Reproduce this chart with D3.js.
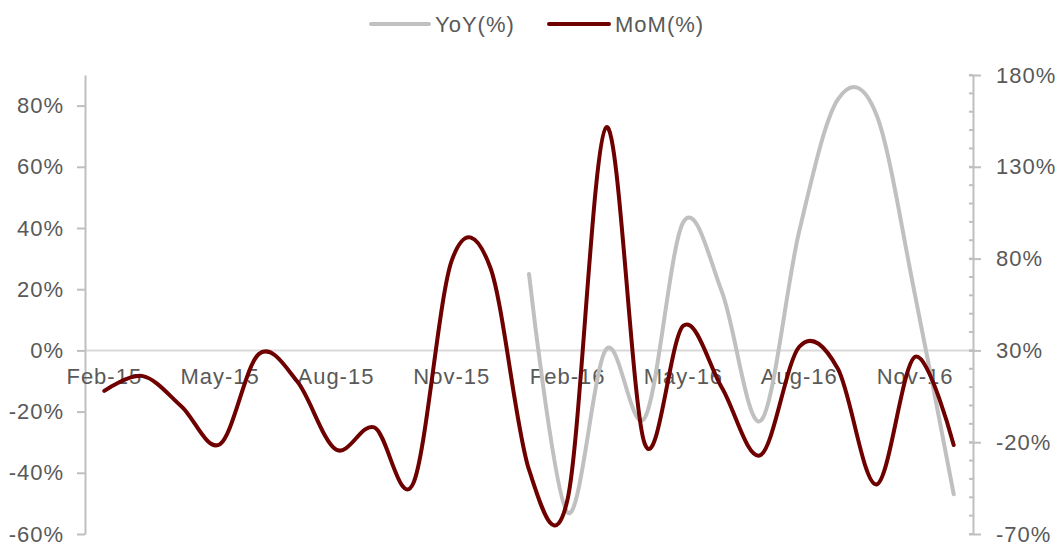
<!DOCTYPE html>
<html lang="en">
<head>
<meta charset="UTF-8">
<title>YoY / MoM</title>
<script src="https://d3js.org/d3.v7.min.js"></script>
<style>
    body { margin: 0; background: #fff; }
    svg { display: block; font-family: Arial, "Liberation Sans", sans-serif; }
    .tick text, .lbl { fill: #595959; font-size: 22px; letter-spacing: 1px; }
</style>
</head>
<body>
<svg width="1060" height="544"></svg>
<script>
    // months Feb-15 .. Dec-16
    const months = ["Feb-15", "Mar-15", "Apr-15", "May-15", "Jun-15", "Jul-15", "Aug-15", "Sep-15", "Oct-15",
        "Nov-15", "Dec-15", "Jan-16", "Feb-16", "Mar-16", "Apr-16", "May-16", "Jun-16", "Jul-16", "Aug-16",
        "Sep-16", "Oct-16", "Nov-16", "Dec-16"];
    const shownLabels = ["Feb-15", "May-15", "Aug-15", "Nov-15", "Feb-16", "May-16", "Aug-16", "Nov-16"];

    // YoY on the left axis, starts Jan-16
    const yoy = [null, null, null, null, null, null, null, null, null, null, null,
        25, -53, 0.4, -22, 42, 19, -23, 39, 82, 77, 18, -47];
    // MoM on the right axis
    const mom = [8, 16, -0.5, -21, 28, 13, -24, -12, -42.5, 79, 75, -35,
        -51, 151.5, -21, 43.5, 9.5, -27, 32, 20, -43, 26.5, -21.5];

    const leftTicks = [-60, -40, -20, 0, 20, 40, 60, 80];
    const rightTicks = [-70, -20, 30, 80, 130, 180];
    const rightMinor = d3.range(-70, 181, 10);

    const svg = d3.select("svg");
    const axisCol = "#bfbfbf";

    const x = d3.scaleBand().domain(months).range([85, 973]);
    const cx = d => x(d) + x.bandwidth() / 2;
    const yL = d3.scaleLinear().domain([-60, 90]).range([534, 75]);
    const yR = d3.scaleLinear().domain([-70, 180]).range([534, 75]);

    // zero line / category axis
    svg.append("line")
        .attr("x1", 85).attr("x2", 973)
        .attr("y1", yL(0)).attr("y2", yL(0))
        .attr("stroke", "#d9d9d9").attr("stroke-width", 2);

    // left axis
    const gl = svg.append("g").attr("transform", "translate(85,0)")
        .call(d3.axisLeft(yL).tickValues(leftTicks).tickSize(8).tickSizeOuter(0).tickPadding(13)
            .tickFormat(d => d + "%"));
    gl.select(".domain").attr("stroke", axisCol).attr("stroke-width", 2);
    gl.selectAll(".tick line").attr("stroke", axisCol).attr("stroke-width", 2);
    gl.selectAll(".tick text").attr("font-family", null).attr("font-size", null);

    // right axis
    const gr = svg.append("g").attr("transform", "translate(973,0)");
    gr.selectAll("line.minor").data(rightMinor).join("line")
        .attr("class", "minor")
        .attr("x1", -4).attr("x2", 0)
        .attr("y1", d => yR(d)).attr("y2", d => yR(d))
        .attr("stroke", axisCol).attr("stroke-width", 2);
    gr.call(d3.axisRight(yR).tickValues(rightTicks).tickSize(8).tickSizeOuter(0).tickPadding(15)
        .tickFormat(d => d + "%"));
    gr.select(".domain").attr("stroke", axisCol).attr("stroke-width", 2);
    gr.selectAll(".tick line").attr("x1", -4).attr("stroke", axisCol).attr("stroke-width", 2);
    gr.selectAll(".tick text").attr("font-family", null).attr("font-size", null);

    // category labels sitting under the zero line
    svg.selectAll("text.cat").data(shownLabels).join("text")
        .attr("class", "cat lbl")
        .attr("x", d => cx(d))
        .attr("y", yL(0) + 34)
        .attr("text-anchor", "middle")
        .text(d => d);

    // series
    const curve = d3.curveCatmullRom.alpha(0);
    const lineL = d3.line().x(d => cx(d[0])).y(d => yL(d[1])).curve(curve);
    const lineR = d3.line().x(d => cx(d[0])).y(d => yR(d[1])).curve(curve);

    const yoyPts = months.map((m, i) => [m, yoy[i]]).filter(d => d[1] != null);
    svg.append("path").datum(yoyPts)
        .attr("d", lineL)
        .attr("fill", "none").attr("stroke", "#c0c0c0").attr("stroke-width", 4)
        .attr("stroke-linecap", "round").attr("stroke-linejoin", "round");

    svg.append("path").datum(months.map((m, i) => [m, mom[i]]))
        .attr("d", lineR)
        .attr("fill", "none").attr("stroke", "#6e0000").attr("stroke-width", 4)
        .attr("stroke-linecap", "round").attr("stroke-linejoin", "round");

    // legend
    const legend = [
        { name: "YoY(%)", color: "#c0c0c0", x: 371, w: 58 },
        { name: "MoM(%)", color: "#6e0000", x: 549, w: 60 }
    ];
    const lg = svg.selectAll("g.leg").data(legend).join("g")
        .attr("class", "leg")
        .attr("transform", d => `translate(${d.x},24)`);
    lg.append("line").attr("x1", 0).attr("x2", d => d.w)
        .attr("stroke", d => d.color).attr("stroke-width", 4).attr("stroke-linecap", "round");
    lg.append("text").attr("class", "lbl").attr("x", d => d.w + 6).attr("dy", "0.35em").text(d => d.name);
</script>
</body>
</html>
